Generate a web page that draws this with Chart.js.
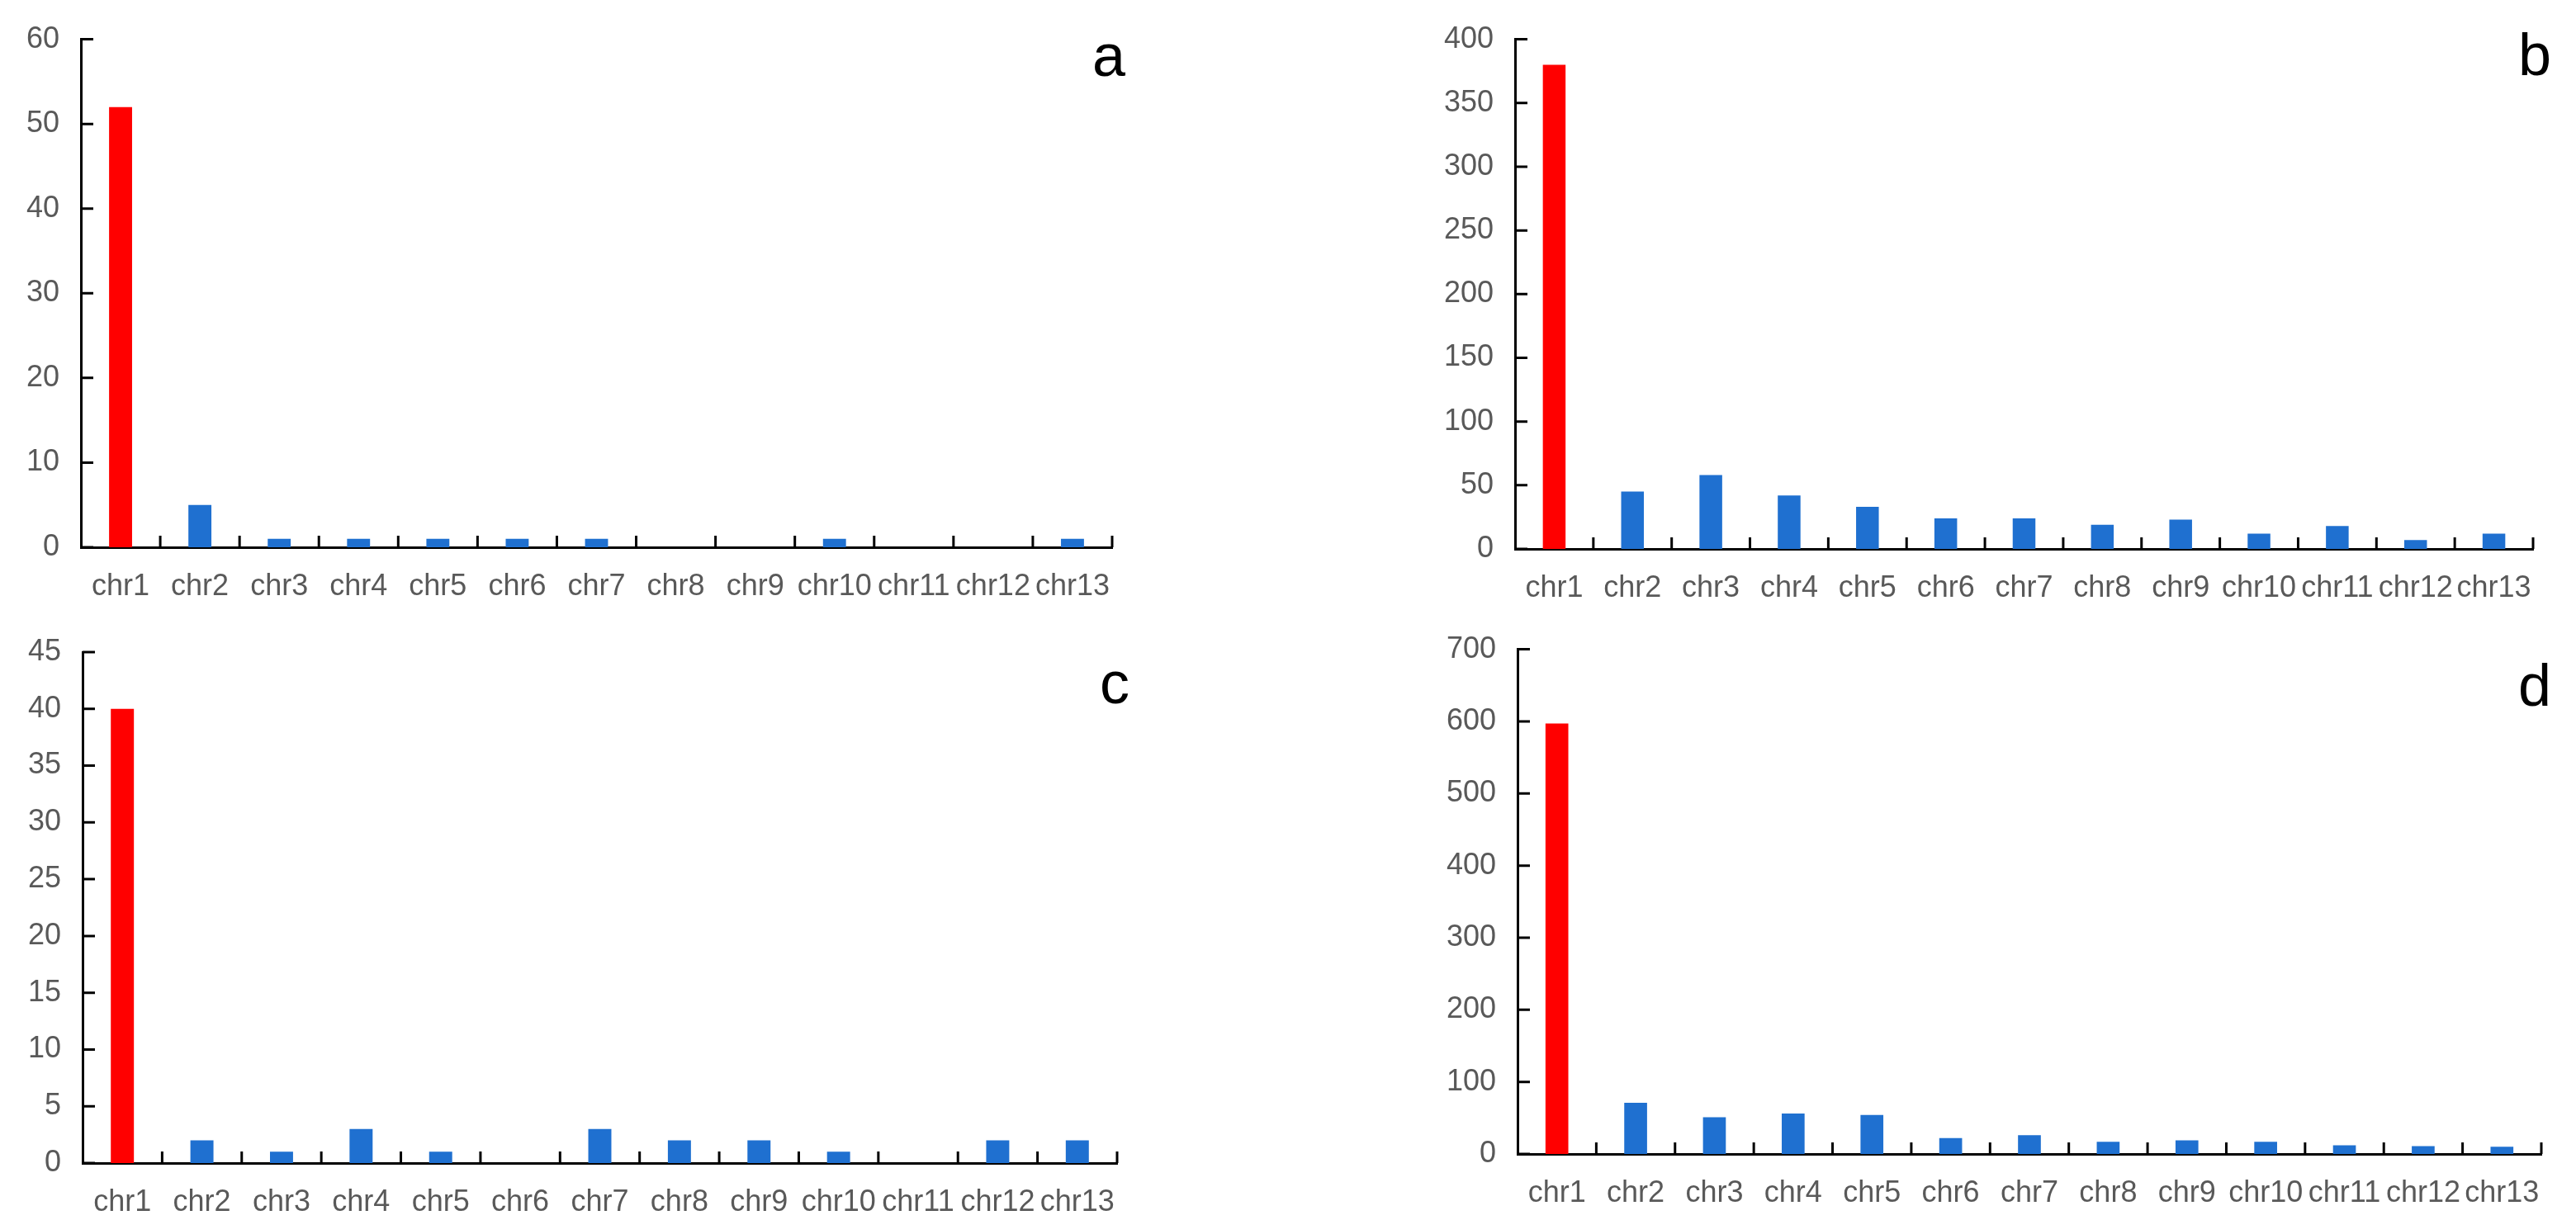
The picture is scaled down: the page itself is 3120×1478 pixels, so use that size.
<!DOCTYPE html>
<html>
<head>
<meta charset="utf-8">
<script src="https://cdn.jsdelivr.net/npm/chart.js@4.4.0/dist/chart.umd.min.js"></script>
<style>
  html, body { margin: 0; padding: 0; background: #fff; }
  #wrap { position: relative; width: 3120px; height: 1478px; }
  canvas { position: absolute; }
</style>
</head>
<body>
<div id="wrap">
  <canvas id="ca" width="1560" height="739" style="left:0;top:0"></canvas>
  <canvas id="cb" width="1560" height="739" style="left:1560px;top:0"></canvas>
  <canvas id="cc" width="1560" height="739" style="left:0;top:739px"></canvas>
  <canvas id="cd" width="1560" height="739" style="left:1560px;top:739px"></canvas>
</div>
<script>
const chromosomes = ['chr1', 'chr2', 'chr3', 'chr4', 'chr5', 'chr6', 'chr7', 'chr8', 'chr9', 'chr10', 'chr11', 'chr12', 'chr13'];

const countsA = [52, 5, 1, 1, 1, 1, 1, 0, 0, 1, 0, 0, 1];
const countsB = [380, 45, 58, 42, 33, 24, 24, 19, 23, 12, 18, 7, 12];
const countsC = [40, 2, 1, 3, 1, 0, 3, 2, 2, 1, 0, 2, 2];
const countsD = [597, 71, 51, 56, 54, 22, 26, 17, 19, 17, 12, 11, 10];

const yMaxA = 60, yStepA = 10;
const yMaxB = 400, yStepB = 50;
const yMaxC = 45, yStepC = 5;
const yMaxD = 700, yStepD = 100;

const RED = '#ff0000';
const BLUE = '#1f70d0';
const TEXT = '#595959';
const FONT = '"Liberation Sans", Arial, sans-serif';

// inward tick marks + panel letter
const innerTicks = {
  id: 'innerTicks',
  afterDraw(chart, args, opts) {
    const ctx = chart.ctx;
    const area = chart.chartArea;
    const y = chart.scales.y;
    ctx.save();
    ctx.strokeStyle = '#000';
    ctx.lineWidth = 3;
    ctx.beginPath();
    y.ticks.forEach(t => {
      const py = y.getPixelForValue(t.value);
      ctx.moveTo(area.left, py);
      ctx.lineTo(area.left + 15, py);
    });
    const n = chart.data.labels.length;
    for (let i = 1; i <= n; i++) {
      const px = area.left + i * (area.right - area.left) / n;
      ctx.moveTo(px, area.bottom);
      ctx.lineTo(px, area.bottom - 14);
    }
    ctx.stroke();
    ctx.fillStyle = '#000';
    ctx.font = '72px ' + FONT;
    ctx.textAlign = 'center';
    ctx.textBaseline = 'middle';
    ctx.fillText(opts.letter, opts.lx, opts.ly);
    ctx.restore();
  }
};

function makePanel(id, values, yMax, yStep, box, letter) {
  new Chart(document.getElementById(id), {
    type: 'bar',
    data: {
      labels: chromosomes,
      datasets: [{
        data: values,
        backgroundColor: c => c.dataIndex === 0 ? RED : BLUE,
        barPercentage: 0.29,
        categoryPercentage: 1
      }]
    },
    options: {
      responsive: false,
      animation: false,
      devicePixelRatio: 1,
      layout: { padding: { top: box.top, right: box.right, left: 0, bottom: 0 } },
      plugins: {
        legend: { display: false },
        tooltip: { enabled: false },
        innerTicks: letter
      },
      scales: {
        x: {
          grid: { display: false, drawTicks: false },
          border: { color: '#000', width: 3 },
          ticks: { color: TEXT, font: { family: FONT, size: 36 }, padding: 26, maxRotation: 0, autoSkip: false },
          afterFit: s => { s.height = box.xh; }
        },
        y: {
          min: 0, max: yMax,
          grid: { display: false, drawTicks: false },
          border: { color: '#000', width: 3 },
          ticks: { stepSize: yStep, color: TEXT, font: { family: FONT, size: 36 }, padding: 26 },
          afterFit: s => { s.width = box.yw; }
        }
      }
    },
    plugins: [innerTicks]
  });
}

makePanel('ca', countsA, yMaxA, yStepA, { top: 43, right: 213, xh: 76, yw: 98 }, { letter: 'a', lx: 1343, ly: 72 });
makePanel('cb', countsB, yMaxB, yStepB, { top: 44, right: 52, xh: 74, yw: 275 }, { letter: 'b', lx: 1510, ly: 71 });
makePanel('cc', countsC, yMaxC, yStepC, { top: 51, right: 207, xh: 69, yw: 100 }, { letter: 'c', lx: 1350, ly: 93 });
makePanel('cd', countsD, yMaxD, yStepD, { top: 43, right: 42, xh: 80, yw: 278 }, { letter: 'd', lx: 1510, ly: 96 });
</script>
</body>
</html>
